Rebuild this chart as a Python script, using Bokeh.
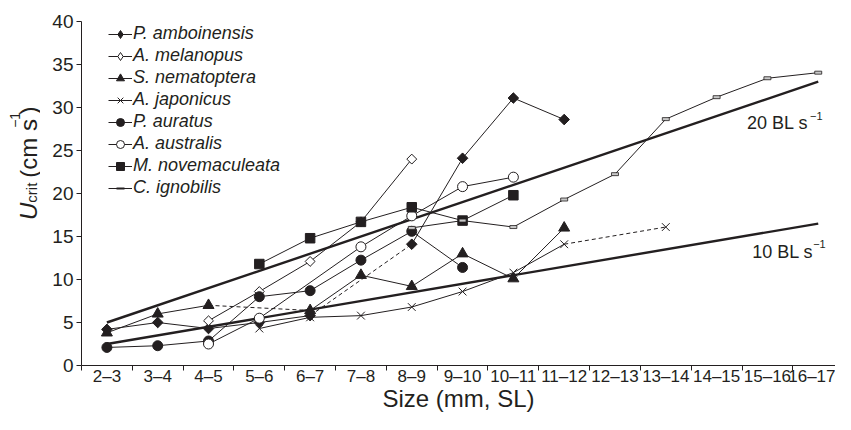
import math
from bokeh.plotting import figure
from bokeh.layouts import row
from bokeh.models import FixedTicker, Label, Legend, LegendItem, Range1d
from bokeh.core.properties import value
from bokeh.embed import file_html
from bokeh.resources import INLINE

# ---------------- data ----------------
categories = ["2–3", "3–4", "4–5", "5–6", "6–7", "7–8", "8–9", "9–10", "10–11",
              "11–12", "12–13", "13–14", "14–15", "15–16", "16–17"]
y_ticks = [0, 5, 10, 15, 20, 25, 30, 35, 40]

N = None
p_amboinensis   = [4.2, 5.0, 4.3, 5.0, 5.8, N, 14.1, 24.1, 31.1, 28.6, N, N, N, N, N]
a_melanopus     = [N, N, 5.2, 8.6, 12.1, 16.7, 24.0, N, N, N, N, N, N, N, N]
s_nematoptera   = [3.8, 6.0, 7.0, N, 6.4, 10.5, 9.2, 13.0, 10.1, 16.0, N, N, N, N, N]
a_japonicus     = [N, N, N, 4.3, 5.6, 5.8, 6.8, 8.6, 10.8, 14.1, N, 16.1, N, N, N]
p_auratus       = [2.1, 2.3, 2.85, 8.0, 8.7, 12.25, 15.6, 11.4, N, N, N, N, N, N, N]
a_australis     = [N, N, 2.5, 5.5, N, 13.8, 17.4, 20.8, 21.9, N, N, N, N, N, N]
m_novemaculeata = [N, N, N, 11.8, 14.8, 16.7, 18.4, 16.85, 19.8, N, N, N, N, N, N]
c_ignobilis     = [N, N, N, N, N, N, 16.0, 16.85, 16.1, 19.3, 22.25, 28.65, 31.2, 33.4, 34.05]

# dashed connections start at these category indices
dashed_amboinensis = [4]
dashed_nematoptera = [2]
dashed_japonicus = [9]

bl_x = [0, 14]
bl20 = [5.0, 33.0]
bl10 = [2.5, 16.5]

INK = "#231f20"
FONT = "Liberation Sans"

# ---------------- main figure ----------------
p = figure(width=795, height=414, output_backend="svg", toolbar_location=None,
           title=None, x_range=Range1d(-0.5, 14.34), y_range=Range1d(0, 40),
           min_border_left=41, min_border_right=0, min_border_top=21,
           min_border_bottom=48)
p.grid.visible = False
p.outline_line_color = None
p.background_fill_color = "white"

p.xaxis.ticker = FixedTicker(ticks=list(range(len(categories))),
                             minor_ticks=[i - 0.5 for i in range(len(categories) + 1)])
p.xaxis.major_label_overrides = {i: c for i, c in enumerate(categories)}
p.xaxis.major_tick_out = 0
p.xaxis.major_tick_in = 0
p.xaxis.minor_tick_out = 5
p.xaxis.minor_tick_in = 0
p.xaxis.major_label_text_font_size = "17px"
p.xaxis.major_label_standoff = -4
p.xaxis.axis_label = "Size (mm, SL)"
p.xaxis.axis_label_text_font = FONT
p.xaxis.axis_label_text_font_size = "24px"
p.xaxis.axis_label_text_font_style = "normal"
p.xaxis.axis_label_text_color = INK
p.xaxis.axis_label_standoff = -4

p.yaxis.ticker = FixedTicker(ticks=y_ticks, minor_ticks=[])
p.yaxis.major_tick_out = 5
p.yaxis.major_tick_in = 0
p.yaxis.minor_tick_out = 0
p.yaxis.major_label_text_font_size = "19px"
p.yaxis.major_label_standoff = 3
for ax in (p.xaxis, p.yaxis):
    ax.axis_line_color = INK
    ax.major_tick_line_color = INK
    ax.minor_tick_line_color = INK
    ax.major_label_text_font = FONT
    ax.major_label_text_color = INK

# reference lines
p.line(bl_x, bl20, line_color=INK, line_width=2.4)
p.line(bl_x, bl10, line_color=INK, line_width=2.4)


def segments(vals, dashed_from):
    pts = [(i, v) for i, v in enumerate(vals) if v is not None]
    solid_x, solid_y, dash_x, dash_y = [], [], [], []
    cur_x, cur_y = [], []
    for k, (i, v) in enumerate(pts):
        if k > 0 and pts[k - 1][0] in dashed_from:
            if len(cur_x) > 1:
                solid_x.append(cur_x); solid_y.append(cur_y)
            dash_x.append([pts[k - 1][0], i]); dash_y.append([pts[k - 1][1], v])
            cur_x, cur_y = [], []
        cur_x.append(i); cur_y.append(v)
    if len(cur_x) > 1:
        solid_x.append(cur_x); solid_y.append(cur_y)
    return solid_x, solid_y, dash_x, dash_y, [i for i, _ in pts], [v for _, v in pts]


# (name, values, dashed, legend-marker style (drawn first), top marker style or None)
series = [
    ("P. amboinensis", p_amboinensis, dashed_amboinensis,
     dict(marker="diamond", size=9.5, fill_color=INK, line_color=INK, line_width=1),
     dict(marker="square", angle=math.pi / 4, size=7.5, fill_color=INK, line_color=INK, line_width=1)),
    ("A. melanopus", a_melanopus, [],
     dict(marker="diamond", size=8.5, fill_color="white", line_color=INK, line_width=1),
     dict(marker="square", angle=math.pi / 4, size=7, fill_color="white", line_color=INK, line_width=1)),
    ("S. nematoptera", s_nematoptera, dashed_nematoptera,
     dict(marker="triangle", size=11, fill_color=INK, line_color=INK, line_width=1), None),
    ("A. japonicus", a_japonicus, dashed_japonicus,
     dict(marker="x", size=11, fill_color=None, line_color=INK, line_width=1), None),
    ("P. auratus", p_auratus, [],
     dict(marker="circle", size=10, fill_color=INK, line_color=INK, line_width=1), None),
    ("A. australis", a_australis, [],
     dict(marker="circle", size=10, fill_color="white", line_color=INK, line_width=1), None),
    ("M. novemaculeata", m_novemaculeata, [],
     dict(marker="square", size=9.5, fill_color=INK, line_color=INK, line_width=1), None),
    ("C. ignobilis", c_ignobilis, [],
     dict(marker="dash", size=6, line_color=INK, line_width=2), "rect"),
]

items = []
for name, vals, dfrom, leg_mk, top_mk in series:
    sx, sy, dx, dy, px, py = segments(vals, dfrom)
    line_r = p.multi_line(sx, sy, line_color=INK, line_width=1)
    if dx:
        p.multi_line(dx, dy, line_color=INK, line_width=1, line_dash="4 3")
    leg_r = p.scatter(px, py, **leg_mk)
    if top_mk == "rect":
        p.rect(px, py, width=7, height=3, width_units="screen", height_units="screen",
               fill_color="#c8c8c8", line_color=INK, line_width=0.8)
    elif top_mk is not None:
        p.scatter(px, py, **top_mk)
    items.append(LegendItem(label=name, renderers=[line_r, leg_r]))

legend = Legend(items=items, location=(27, 167), padding=0, margin=0,
                border_line_color=None, background_fill_alpha=0,
                glyph_width=24, glyph_height=20, label_height=20, spacing=1,
                label_standoff=1, label_text_font=FONT, label_text_font_size="18px",
                label_text_font_style="italic", label_text_color=INK)
p.add_layout(legend)

# BL labels (data units)
p.add_layout(Label(x=12.60, y=28.17, text="20 BL s", text_font=FONT, text_font_size="18px",
                   text_color=INK, text_align="left", text_baseline="alphabetic"))
p.add_layout(Label(x=13.84, y=29.0, text="−1", text_font=FONT, text_font_size="11px",
                   text_color=INK, text_align="left", text_baseline="alphabetic"))
p.add_layout(Label(x=12.70, y=13.2, text="10 BL s", text_font=FONT, text_font_size="18px",
                   text_color=INK, text_align="left", text_baseline="alphabetic"))
p.add_layout(Label(x=13.90, y=14.1, text="−1", text_font=FONT, text_font_size="11px",
                   text_color=INK, text_align="left", text_baseline="alphabetic"))

# ---------------- y-axis title panel ----------------
yfig = figure(width=40, height=414, output_backend="svg", toolbar_location=None,
              title=None, x_range=Range1d(0, 40), y_range=Range1d(0, 414),
              x_axis_type=None, y_axis_type=None, min_border=0)
yfig.grid.visible = False
yfig.outline_line_color = None

rot = math.pi / 2
for txt, xs, ys, size, style in [
    ("U", 28, 175, "24px", "italic"),
    ("crit", 31, 196, "15px", "normal"),
    ("(cm s", 28, 226, "24px", "normal"),
    ("−1", 14, 286, "14px", "normal"),
    (")", 28, 302, "24px", "normal"),
]:
    yfig.text(x=[xs], y=[ys], text=[txt], angle=rot, text_font=value(FONT),
              text_font_size=size, text_font_style=style, text_color=INK,
              text_align="left", text_baseline="alphabetic")

layout = row(yfig, p)
open("out.html", "w").write(file_html(layout, INLINE))
